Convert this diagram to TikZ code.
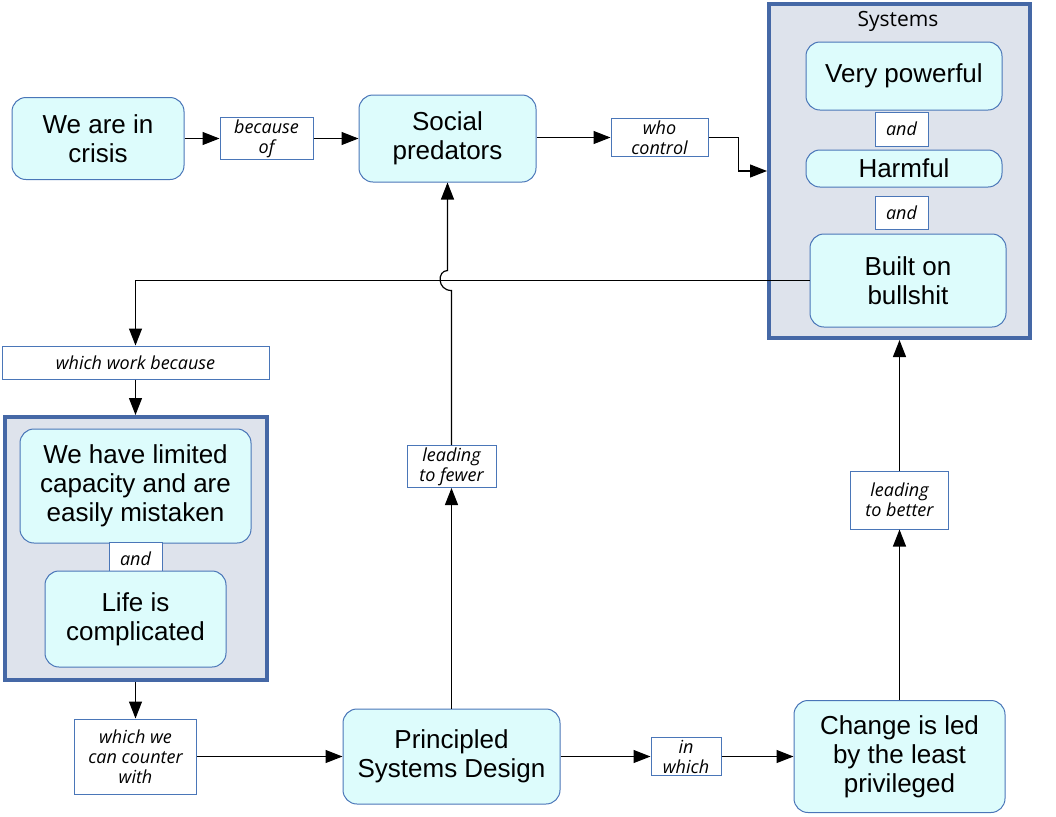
\documentclass[tikz,border=0pt]{standalone}
\usepackage{fontspec}
\setmainfont{Liberation Sans}
\newfontfamily\labelfont{Open Sans}
\usetikzlibrary{arrows.meta}

\definecolor{nodefill}{HTML}{DDFCFC}
\definecolor{nodeline}{HTML}{4A76B8}
\definecolor{groupfill}{HTML}{DEE3EC}
\definecolor{groupline}{HTML}{4568A6}

\begin{document}
\begin{tikzpicture}[
  x=0.5pt, y=-0.5pt,
  statebox/.style={rectangle, draw=nodeline, fill=nodefill, line width=0.5pt, rounded corners=7pt,
    align=center, inner sep=2pt, font=\fontsize{13}{14.5}\selectfont},
  linkbox/.style={rectangle, draw=nodeline, fill=white, line width=0.5pt, align=center, inner sep=1pt,
    font=\labelfont\itshape\fontsize{9}{10}\selectfont},
  group/.style={rectangle, draw=groupline, fill=groupfill, line width=2pt},
  arrow/.style={-{Triangle[length=8.5pt,width=6.5pt]}, line width=0.6pt}
]
  \useasboundingbox (0,0) rectangle (1056,816);

  % Containers
  \node[group, minimum width=130.5pt, minimum height=167pt] (sys) at (899.5,171) {};
  \node[font=\labelfont\fontsize{10.5}{12}\selectfont] (systitle) at (898,21) {Systems};
  \node[group, minimum width=131pt, minimum height=131.5pt] (mind) at (135.5,548.5) {};

  % Top row
  \node[statebox, minimum width=86pt, minimum height=41pt] (crisis) at (98,138.5) {We are in\\crisis};
  \node[linkbox, minimum width=46.5pt, minimum height=18.5pt] (because) at (266.5,138.5) {because\\of};
  \node[statebox, minimum width=88.5pt, minimum height=43.5pt] (social) at (447.5,138.5) {Social\\predators};
  \node[linkbox, minimum width=48.5pt, minimum height=19pt] (control) at (659.5,137.5) {who\\control};

  % Inside Systems
  \node[statebox, minimum width=98pt, minimum height=34pt] (powerful) at (904,76) {Very powerful};
  \node[linkbox, minimum width=26.5pt, minimum height=17pt] (and1) at (901.5,129) {and};
  \node[statebox, minimum width=98pt, minimum height=18.5pt] (harmful) at (904,168.5) {Harmful};
  \node[linkbox, minimum width=26.5pt, minimum height=16.5pt] (and2) at (901.5,212.5) {and};
  \node[statebox, minimum width=98pt, minimum height=46.5pt] (bullshit) at (908,280.5) {Built on\\bullshit};

  % Left column
  \node[linkbox, minimum width=133.5pt, minimum height=16.5pt] (work) at (135.5,362.5) {which work because};
  \node[statebox, minimum width=115.5pt, minimum height=57pt] (limited) at (135.5,486) {We have limited\\capacity and are\\easily mistaken};
  \node[linkbox, minimum width=26.5pt, minimum height=16.5pt] (and3) at (135.5,558.5) {and};
  \node[statebox, minimum width=90.5pt, minimum height=48pt] (life) at (135.5,619) {Life is\\complicated};
  \node[linkbox, minimum width=61pt, minimum height=37.5pt] (counter) at (135.5,756.5) {which we\\can counter\\with};

  % Bottom row
  \node[statebox, minimum width=108.5pt, minimum height=47.5pt] (design) at (451.5,756.5) {Principled\\Systems Design};
  \node[linkbox, minimum width=35pt, minimum height=17pt] (inwhich) at (686,756.5) {in\\which};
  \node[statebox, minimum width=105.5pt, minimum height=56pt] (change) at (899.5,756.5) {Change is led\\by the least\\privileged};

  % Upward links
  \node[linkbox, minimum width=44.5pt, minimum height=20.5pt] (fewer) at (451.5,466.5) {leading\\to fewer};
  \node[linkbox, minimum width=49pt, minimum height=29pt] (better) at (899.5,500) {leading\\to better};

  % Connectors
  \draw[arrow] (crisis.east) -- (because.west);
  \draw[arrow] (because.east) -- (social.west);
  \draw[arrow] (social.east |- control.west) -- (control.west);
  \coordinate (turn) at (738.5,137.5);
  \draw[arrow] (control.east) -- (turn) |- (sys.west);

  \draw[arrow] (bullshit.west) -| (work.north);
  \draw[arrow] (work.south) -- (mind.north);
  \draw[arrow] (mind.south) -- (counter.north);
  \draw[arrow] (counter.east) -- (design.west);
  \draw[arrow] (design.east) -- (inwhich.west);
  \draw[arrow] (inwhich.east) -- (change.west);

  \draw[arrow] (design.north) -- (fewer.south);
  % hop over the horizontal line
  \coordinate (hopA) at (451.5,290.5);
  \coordinate (hopB) at (447.5,270.5);
  \draw[arrow] (fewer.north) -- (hopA) .. controls (437,290.5) and (437,270.5) .. (hopB) -- (social.south);

  \draw[arrow] (change.north -| better.south) -- (better.south);
  \draw[arrow] (better.north) -- (sys.south -| better.north);
\end{tikzpicture}
\end{document}
